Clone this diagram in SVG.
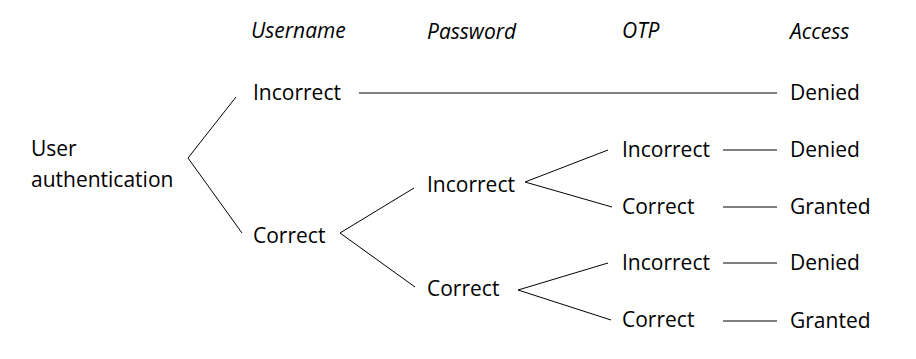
<svg xmlns="http://www.w3.org/2000/svg" width="916" height="359" viewBox="0 0 916 359">
<style>
text{font-family:"Open Sans","Liberation Sans",sans-serif;font-size:21px;fill:#000}
.h{font-style:italic}
.c line{stroke:#000;stroke-width:1}
</style>
<rect width="916" height="359" fill="#fff"/>
<g id="headers">
<text class="h" x="251" y="38">Username</text>
<text class="h" x="427" y="39">Password</text>
<text class="h" x="622" y="38">OTP</text>
<text class="h" x="790" y="39">Access</text>
</g>
<g id="root"><text x="31" y="156">User</text><text x="31" y="187">authentication</text></g>
<g id="u-incorrect"><text x="253" y="100">Incorrect</text></g>
<g id="u-correct"><text x="253" y="243">Correct</text></g>
<g id="p-incorrect"><text x="427" y="192">Incorrect</text></g>
<g id="p-correct"><text x="427" y="296">Correct</text></g>
<g id="o-incorrect1"><text x="622" y="157">Incorrect</text></g>
<g id="o-correct1"><text x="622" y="214">Correct</text></g>
<g id="o-incorrect2"><text x="622" y="270">Incorrect</text></g>
<g id="o-correct2"><text x="622" y="327">Correct</text></g>
<g id="a-denied0"><text x="790" y="100">Denied</text></g>
<g id="a-denied1"><text x="790" y="157">Denied</text></g>
<g id="a-granted1"><text x="790" y="214">Granted</text></g>
<g id="a-denied2"><text x="790" y="270">Denied</text></g>
<g id="a-granted2"><text x="790" y="328">Granted</text></g>
<g class="c" id="connectors">
<line x1="188" y1="158" x2="236" y2="97"/>
<line x1="188" y1="158" x2="242" y2="233"/>
<line x1="359" y1="93" x2="777" y2="93"/>
<line x1="340" y1="233" x2="414" y2="188"/>
<line x1="340" y1="233" x2="415" y2="287"/>
<line x1="525" y1="182" x2="608" y2="150"/>
<line x1="525" y1="182" x2="612" y2="207"/>
<line x1="518" y1="290" x2="608" y2="263"/>
<line x1="518" y1="290" x2="611" y2="320"/>
<line x1="723" y1="150" x2="777" y2="150"/>
<line x1="723" y1="207" x2="777" y2="207"/>
<line x1="723" y1="263" x2="777" y2="263"/>
<line x1="723" y1="321" x2="777" y2="321"/>
</g>
</svg>
